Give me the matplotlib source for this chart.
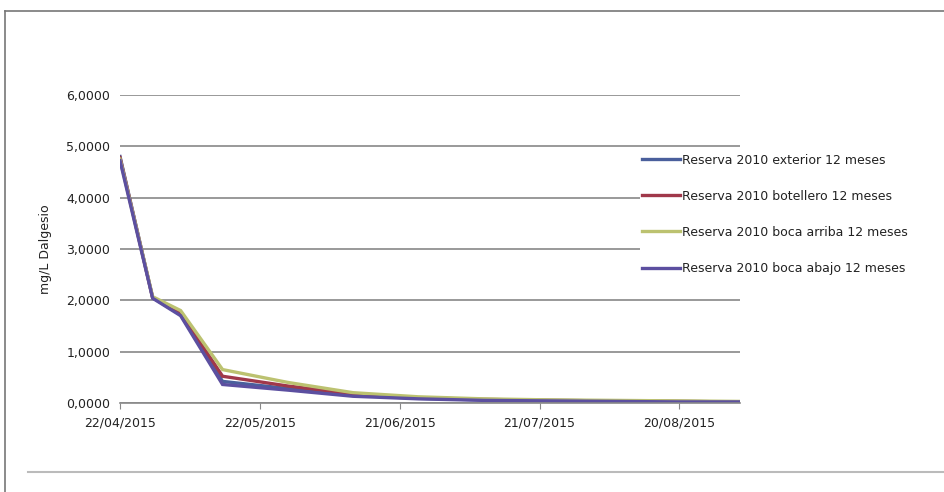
import matplotlib
matplotlib.use("Agg")
import matplotlib.pyplot as plt
import matplotlib.dates as mdates
import matplotlib.ticker as mticker
import pandas as pd

fechas = ["2015-04-22", "2015-04-29", "2015-05-05", "2015-05-14", "2015-05-28", "2015-06-11",
          "2015-06-25", "2015-07-09", "2015-07-23", "2015-08-06", "2015-08-20", "2015-09-02"]
exterior = [4.80, 2.05, 1.72, 0.42, 0.28, 0.15, 0.09, 0.06, 0.05, 0.04, 0.03, 0.02]
botellero = [4.78, 2.05, 1.75, 0.52, 0.33, 0.18, 0.10, 0.07, 0.05, 0.04, 0.03, 0.02]
boca_arriba = [4.75, 2.07, 1.80, 0.65, 0.40, 0.20, 0.12, 0.08, 0.06, 0.05, 0.04, 0.03]
boca_abajo = [4.72, 2.04, 1.70, 0.36, 0.25, 0.13, 0.08, 0.05, 0.04, 0.03, 0.02, 0.02]

series = [
    ("Reserva 2010 exterior 12 meses", exterior, "#4a5f9c"),
    ("Reserva 2010 botellero 12 meses", botellero, "#a0384a"),
    ("Reserva 2010 boca arriba 12 meses", boca_arriba, "#bcc270"),
    ("Reserva 2010 boca abajo 12 meses", boca_abajo, "#5c4fa0"),
]
ticks = pd.date_range("2015-04-22", periods=5, freq="30D")

x = pd.to_datetime(fechas)

plt.rcParams["font.family"] = "DejaVu Sans"
fig = plt.figure(figsize=(9.45, 4.92), dpi=100)
ax = fig.add_axes([0.127, 0.181, 0.656, 0.626])

for nombre, vals, col in series:
    ax.plot(x, vals, color=col, lw=2.4, label=nombre, solid_joinstyle="miter")

ax.set_ylim(0, 6)
ax.set_xlim(pd.Timestamp("2015-04-22"), pd.Timestamp("2015-09-02"))
ax.yaxis.set_major_locator(mticker.MultipleLocator(1))
ax.yaxis.set_major_formatter(mticker.FuncFormatter(lambda v, p: f"{v:.4f}".replace(".", ",")))
ax.set_xticks(ticks)
ax.xaxis.set_major_formatter(mdates.DateFormatter("%d/%m/%Y"))
ax.grid(axis="y", color="#888888", lw=1.2)
ax.set_axisbelow(True)
for s in ["top", "right", "left"]:
    ax.spines[s].set_visible(False)
ax.spines["bottom"].set_color("#888888")
ax.spines["bottom"].set_linewidth(1.2)
ax.tick_params(axis="y", length=0, labelsize=9, pad=7, labelcolor="#222222")
ax.tick_params(axis="x", length=4, color="#888888", labelsize=9, pad=6, labelcolor="#222222")
ax.set_ylabel("mg/L Dalgesio", fontsize=9, labelpad=10, color="#222222")

leg = ax.legend(loc="upper left", bbox_to_anchor=(640 / 945, 1 - 151 / 492),
                bbox_transform=fig.transFigure, frameon=True, fontsize=9,
                handlelength=3.0, handletextpad=0.15, labelspacing=1.85,
                borderaxespad=0, borderpad=0.2)
leg.get_frame().set_edgecolor("none")
leg.get_frame().set_facecolor("white")
leg.get_frame().set_alpha(1)
for t in leg.get_texts():
    t.set_color("#222222")

# marco y linea inferior
fig.add_artist(plt.Line2D([5 / 945, 5 / 945], [0, 1 - 11 / 492], color="#777777", lw=1.2))
fig.add_artist(plt.Line2D([5 / 945, 1], [1 - 11 / 492, 1 - 11 / 492], color="#777777", lw=1.2))
fig.add_artist(plt.Line2D([28 / 945, 1], [1 - 472 / 492, 1 - 472 / 492], color="#bbbbbb", lw=1.5))

fig.savefig("out.png", dpi=100)
